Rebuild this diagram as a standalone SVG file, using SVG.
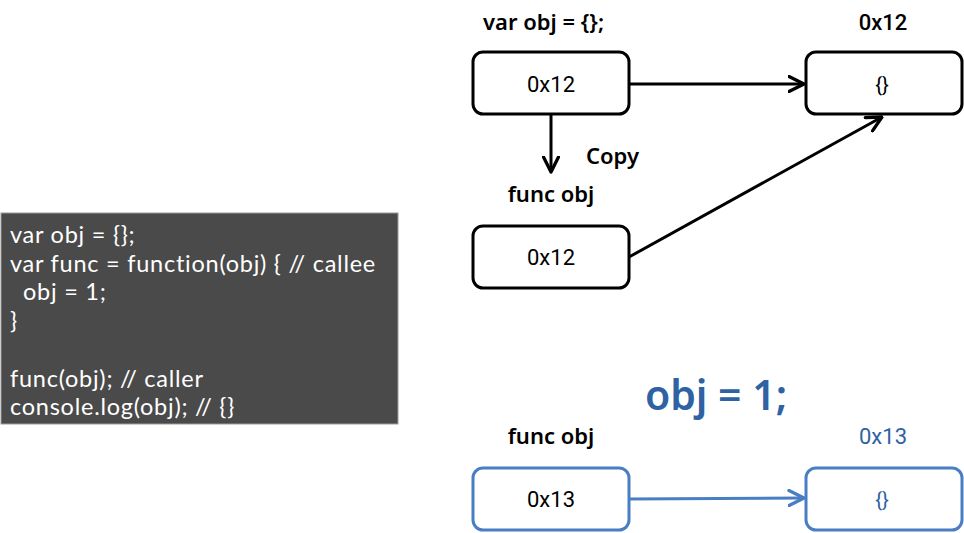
<svg xmlns="http://www.w3.org/2000/svg" width="964" height="533" viewBox="0 0 964 533">
<defs>
<style>
.lbl{font-family:"Noto Sans","Open Sans","Liberation Sans",sans-serif;font-weight:600;font-size:22px;fill:#000}
.box{fill:#fff;stroke:#000;stroke-width:3}
.bbox{fill:#fff;stroke:#4a7ec4;stroke-width:3}
.val{font-family:"Roboto","DejaVu Sans",sans-serif;font-weight:400;font-size:22px;fill:#000;text-anchor:middle}
.code{font-family:"Lato","Noto Sans","Liberation Sans",sans-serif;font-size:23.5px;letter-spacing:0.75px;fill:#fff}
.conn{stroke:#000;stroke-width:3;fill:none}
.bconn{stroke:#4a7ec4;stroke-width:3;fill:none}
</style>
<marker id="ah" viewBox="0 0 12 12" refX="11" refY="6" markerWidth="6" markerHeight="6" markerUnits="strokeWidth" orient="auto">
<path d="M1,1 L11,6 L1,11" fill="none" stroke="#000" stroke-width="2.2" stroke-linecap="round" stroke-linejoin="round"/>
</marker>
<marker id="ahb" viewBox="0 0 12 12" refX="11" refY="6" markerWidth="6" markerHeight="6" markerUnits="strokeWidth" orient="auto">
<path d="M1,1 L11,6 L1,11" fill="none" stroke="#4a7ec4" stroke-width="2.2" stroke-linecap="round" stroke-linejoin="round"/>
</marker>
</defs>
<rect width="964" height="533" fill="#fff"/>

<g id="code">
<rect x="1" y="213" width="397" height="211" fill="#4a4a4a" stroke="#9a9a9a" stroke-width="1"/>
<text class="code" x="10" y="243">var obj = {};</text>
<text class="code" x="10" y="272">var func = function(obj) { // callee</text>
<text class="code" x="23" y="300">obj = 1;</text>
<text class="code" x="10" y="329">}</text>
<text class="code" x="10" y="387">func(obj); // caller</text>
<text class="code" x="10" y="415">console.log(obj); // {}</text>
</g>

<g id="connectors">
<line class="conn" x1="629" y1="84" x2="804" y2="84" marker-end="url(#ah)"/>
<line class="conn" x1="551" y1="115" x2="551" y2="172" marker-end="url(#ah)"/>
<line class="conn" x1="629" y1="257" x2="882" y2="117" marker-end="url(#ah)"/>
<line class="bconn" x1="629" y1="499" x2="804" y2="498" marker-end="url(#ahb)"/>
</g>

<g id="label-varobj"><text class="lbl" x="483" y="30">var obj = {};</text></g>
<g id="label-0x12"><text x="883" y="30" text-anchor="middle" style="font-family:Roboto,'DejaVu Sans',sans-serif;font-weight:500;font-size:22px;fill:#000">0x12</text></g>
<g id="label-copy"><text class="lbl" x="586" y="164">Copy</text></g>
<g id="label-funcobj1"><text class="lbl" x="551" y="202" text-anchor="middle">func obj</text></g>

<g id="node-varobj">
<rect class="box" x="473" y="52" width="156" height="62" rx="10"/>
<text class="val" x="551" y="92">0x12</text>
</g>
<g id="node-obj12">
<rect class="box" x="806" y="52" width="156" height="62" rx="10"/>
<text class="val" x="882" y="92" style="font-size:20px">{}</text>
</g>
<g id="node-funcobj1">
<rect class="box" x="473" y="226" width="156" height="62" rx="10"/>
<text class="val" x="551" y="265">0x12</text>
</g>

<g id="label-assign"><text x="716" y="410" text-anchor="middle" style="font-family:'Noto Sans','Open Sans',sans-serif;font-weight:600;font-size:41px;fill:#2e62a3">obj = 1;</text></g>
<g id="label-funcobj2"><text class="lbl" x="551" y="444" text-anchor="middle">func obj</text></g>
<g id="label-0x13"><text x="883" y="444" text-anchor="middle" style="font-family:Roboto,'DejaVu Sans',sans-serif;font-size:22px;fill:#2e62a3">0x13</text></g>

<g id="node-funcobj2">
<rect class="bbox" x="473" y="468" width="156" height="62" rx="10"/>
<text class="val" x="551" y="507">0x13</text>
</g>
<g id="node-obj13">
<rect class="bbox" x="806" y="468" width="156" height="62" rx="10"/>
<text class="val" x="882" y="507" style="font-size:20px;fill:#2e62a3">{}</text>
</g>
</svg>
